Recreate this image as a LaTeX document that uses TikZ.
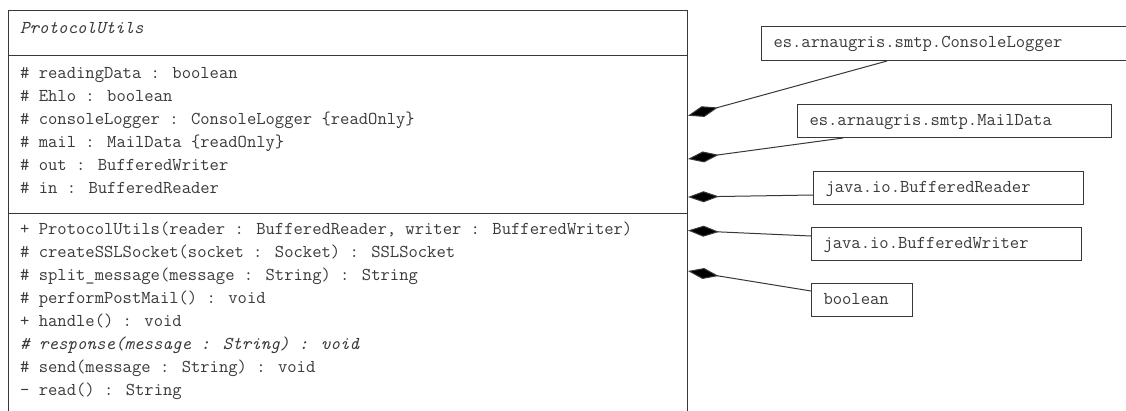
\documentclass[tikz,border=0pt]{standalone}
\usepackage{fontspec}
\usetikzlibrary{arrows.meta,calc}

\definecolor{edge}{HTML}{383838}
\definecolor{ink}{HTML}{3A3A3A}

\begin{document}
\begin{tikzpicture}[x=1pt,y=-1pt,
  every node/.style={font=\ttfamily\fontsize{18.1}{20}\selectfont, text=ink},
  member/.style={anchor=base west, inner sep=0pt},
  classbox/.style={draw=edge, line width=1pt, anchor=north west, inner xsep=12pt,
    inner ysep=0pt, text height=8pt, text depth=0pt, align=left},
  comp/.style={draw=edge, line width=1pt,
    -{Diamond[length=31pt,width=11pt,fill=black]}}]
\useasboundingbox (0,0) rectangle (1126,410);
\clip (0,0) rectangle (1126,410);
\fill[white] (0,0) rectangle (1126,410);

% main class, open at the bottom
\node[draw=edge, line width=1pt, anchor=north west, minimum width=679pt,
  minimum height=440pt, inner sep=0pt] (main) at (8,10) {};
\draw[edge, line width=1pt] ($(main.north west)+(0,45)$) -- ($(main.north east)+(0,45)$);
\draw[edge, line width=1pt] ($(main.north west)+(0,203)$) -- ($(main.north east)+(0,203)$);

\node[member] (name) at (20,33) {\itshape ProtocolUtils};

% attributes
\node[member] (a1) at (20,78)  {\# readingData : boolean};
\node[member] (a2) at (20,101) {\# Ehlo : boolean};
\node[member] (a3) at (20,124) {\# consoleLogger : ConsoleLogger \{readOnly\}};
\node[member] (a4) at (20,147) {\# mail : MailData \{readOnly\}};
\node[member] (a5) at (20,170) {\# out : BufferedWriter};
\node[member] (a6) at (20,193) {\# in : BufferedReader};

% operations
\node[member] (m1) at (20,234) {+ ProtocolUtils(reader : BufferedReader, writer : BufferedWriter)};
\node[member] (m2) at (20,257) {\# createSSLSocket(socket : Socket) : SSLSocket};
\node[member] (m3) at (20,280) {\# split\_message(message : String) : String};
\node[member] (m4) at (20,303) {\# performPostMail() : void};
\node[member] (m5) at (20,326) {+ handle() : void};
\node[member] (m6) at (20,349) {\itshape \# response(message : String) : void};
\node[member] (m7) at (20,372) {\# send(message : String) : void};
\node[member] (m8) at (20,395) {- read() : String};

% referenced classes
\node[classbox, minimum width=364.5pt, minimum height=34pt, text width=340.5pt] (cl) at (761,26) {es.arnaugris.smtp.ConsoleLogger};
\node[classbox, minimum width=314pt, minimum height=33pt, text width=290pt] (md) at (797,104) {es.arnaugris.smtp.MailData};
\node[classbox, minimum width=270pt, minimum height=33pt, text width=246pt] (br) at (813,171) {java.io.BufferedReader};
\node[classbox, minimum width=270pt, minimum height=33pt, text width=246pt] (bw) at (811,227) {java.io.BufferedWriter};
\node[classbox, minimum width=101pt, minimum height=33pt, text width=77pt] (bo) at (811,283) {boolean};

% composition ends on the right side of the main class
\coordinate (pcl) at ($(main.north east)+(0,105.7)$);
\coordinate (pmd) at ($(main.north east)+(0,149)$);
\coordinate (pbr) at ($(main.north east)+(0,187)$);
\coordinate (pbw) at ($(main.north east)+(0,220.5)$);
\coordinate (pbo) at ($(main.north east)+(0,261)$);

\draw[comp] ($(cl.south west)+(126,0)$) -- (pcl);
\draw[comp] ($(md.south west)+(46,0)$) -- (pmd);
\draw[comp] ($(br.west)+(0,7)$) -- (pbr);
\draw[comp] ($(bw.north west)+(0,9)$) -- (pbw);
\draw[comp] ($(bo.north west)+(0,8)$) -- (pbo);
\end{tikzpicture}
\end{document}
